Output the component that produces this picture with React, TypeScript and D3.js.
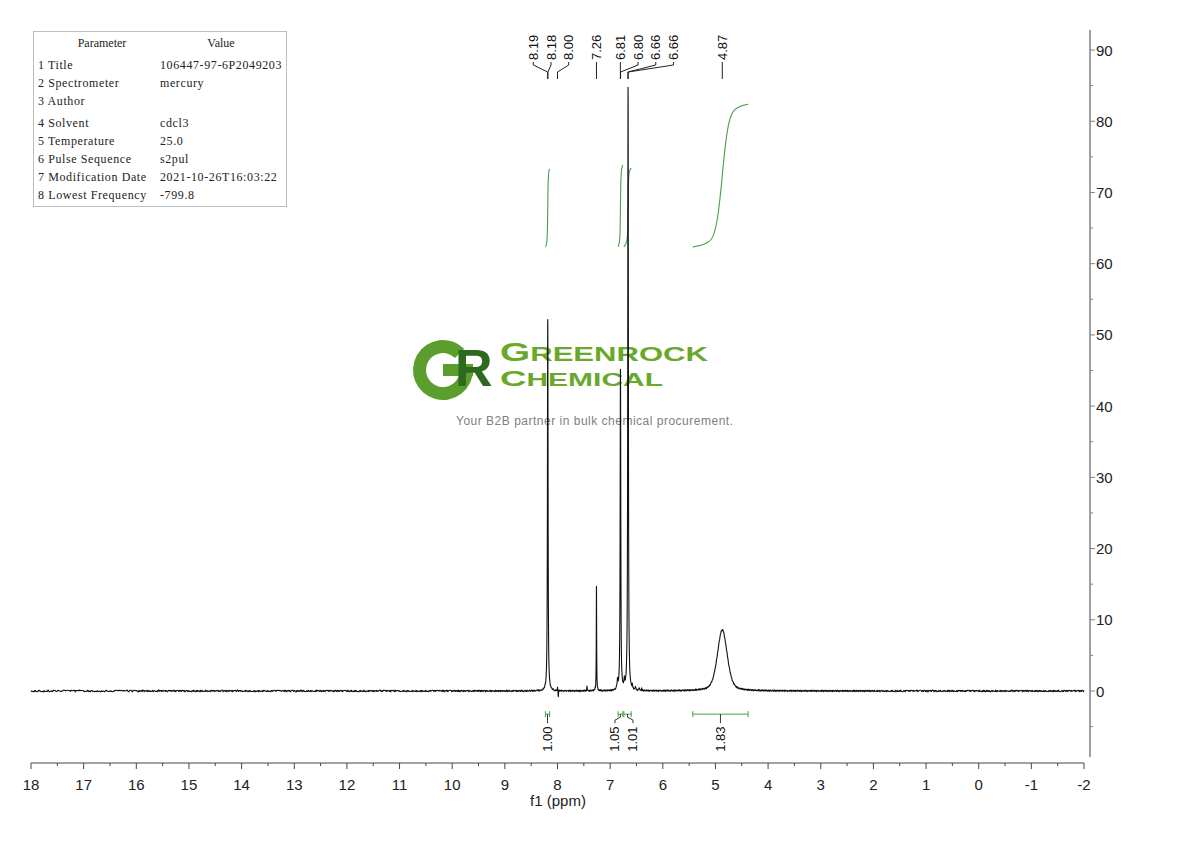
import React from "react";
import * as d3 from "d3";

// ---------------- data ----------------
const PARAM_NAMES = [
  "Title",
  "Spectrometer",
  "Author",
  "Solvent",
  "Temperature",
  "Pulse Sequence",
  "Modification Date",
  "Lowest Frequency",
];
const PARAM_VALUES = [
  "106447-97-6P2049203",
  "mercury",
  "",
  "cdcl3",
  "25.0",
  "s2pul",
  "2021-10-26T16:03:22",
  "-799.8",
];

// labelled peaks (ppm, height, half width in ppm, Lorentzian fraction)
const PEAK_PPM = [8.187, 8.183, 8.0, 7.26, 6.806, 6.802, 6.662, 6.658, 4.87];
const PEAK_HEIGHT = [29, 29, 0.5, 14.6, 25, 25, 47, 47, 8.6];
const PEAK_WIDTH = [0.006, 0.006, 0.004, 0.004, 0.006, 0.006, 0.006, 0.006, 0.11];
const PEAK_LFRAC = [1, 1, 1, 1, 1, 1, 1, 1, 0.4];

// small unlabelled features
const MINOR_PPM = [7.985, 7.44, 6.86, 6.73, 6.58, 6.52, 6.45, 6.4];
const MINOR_HEIGHT = [-0.8, 0.6, 1.2, 1.0, 0.4, 0.5, 0.4, 0.3];
const MINOR_WIDTH = [0.004, 0.004, 0.01, 0.008, 0.005, 0.005, 0.005, 0.005];

// baseline noise (intensity units)
const NOISE = [
  0.05, -0.08, 0.12, -0.03, 0.09, -0.11, 0.02, 0.07, -0.06, 0.1, -0.04, 0.08,
  -0.1, 0.03, 0.06, -0.07, 0.11, -0.02, 0.04, -0.09, 0.07, -0.05, 0.1, -0.12,
  0.01, 0.08, -0.06, 0.05, -0.03, 0.09, -0.08, 0.02, 0.12, -0.07, 0.04, -0.1,
  0.06, -0.01, 0.08, -0.05, 0.03, -0.09, 0.11, -0.04, 0.07, -0.06, 0.02, 0.1,
  -0.08, 0.05, -0.02, 0.09, -0.11, 0.04, 0.06, -0.03, 0.08, -0.07, 0.01, -0.05,
];

// integrals
const INT_FROM = [8.23, 6.85, 6.74, 5.43];
const INT_TO = [8.15, 6.76, 6.6, 4.38];
const INT_VALUES = [1.0, 1.05, 1.01, 1.83];

// axes
const X_TICKS = [18, 17, 16, 15, 14, 13, 12, 11, 10, 9, 8, 7, 6, 5, 4, 3, 2, 1, 0, -1, -2];
const Y_TICKS = [0, 10, 20, 30, 40, 50, 60, 70, 80, 90];

// ---------------- layout ----------------
const X_LEFT = 31;
const X_RIGHT = 1084;
const AXIS_Y = 763;
const RAXIS_X = 1090;
const RAXIS_TOP = 30;
const RAXIS_BOTTOM = 757;
const INT_BASE = 62.35; // intensity units where integral curves start
const INT_SCALE = 10.95; // intensity units per integral unit
const LABEL_GAP = 17.7;
const GREEN = "#46a146";
const SANS = "'Liberation Sans', Arial, sans-serif";
const SERIF = "'Liberation Serif', 'Times New Roman', serif";

function shape(x: number, c: number, h: number, w: number, lf: number) {
  const t = (x - c) / w;
  const lor = 1 / (1 + t * t);
  const gau = Math.exp(-Math.LN2 * t * t);
  return h * (lf * lor + (1 - lf) * gau);
}

function signal(ppm: number) {
  let v = 0;
  for (let i = 0; i < PEAK_PPM.length; i++)
    v += shape(ppm, PEAK_PPM[i], PEAK_HEIGHT[i], PEAK_WIDTH[i], PEAK_LFRAC[i]);
  for (let i = 0; i < MINOR_PPM.length; i++)
    v += shape(ppm, MINOR_PPM[i], MINOR_HEIGHT[i], MINOR_WIDTH[i], 1);
  return v;
}

// place labels: clusters centered on their targets, pushed right if they collide
function spreadLabels(targets: number[], gap: number) {
  const order = targets.map((t, i) => i).sort((a, b) => targets[a] - targets[b]);
  const clusters: number[][] = [];
  order.forEach((idx, k) => {
    if (k === 0 || targets[idx] - targets[order[k - 1]] >= gap) clusters.push([idx]);
    else clusters[clusters.length - 1].push(idx);
  });
  const pos: number[] = new Array(targets.length);
  let prevLast = -Infinity;
  clusters.forEach((cl) => {
    const n = cl.length;
    const mean = d3.mean(cl, (i) => targets[i]) as number;
    let start = mean - ((n - 1) / 2) * gap;
    if (start < prevLast + gap) {
      start = Math.max(prevLast + gap, targets[cl[0]]);
    }
    cl.forEach((idx, k) => (pos[idx] = start + k * gap));
    prevLast = start + (n - 1) * gap;
  });
  return pos;
}

export default function App() {
  const xs = d3.scaleLinear().domain([18, -2]).range([X_LEFT, X_RIGHT]);
  const ys = d3.scaleLinear().domain([0, 90]).range([691, 50]);

  // sampling grid
  const grid: number[] = [];
  for (let i = 0; i <= 2000; i++) grid.push(18 - i * 0.01);
  PEAK_PPM.forEach((c, i) => {
    if (PEAK_WIDTH[i] < 0.02) for (let d = -0.05; d <= 0.05; d += 0.0005) grid.push(c + d);
  });
  grid.sort((a, b) => b - a);
  const pts = grid.map((p) => {
    const k = Math.abs(Math.floor((18 - p) / 0.01)) % NOISE.length;
    return { p, v: signal(p) + NOISE[k] };
  });
  const line = d3
    .line<{ p: number; v: number }>()
    .x((d) => xs(d.p))
    .y((d) => ys(d.v));
  const specPath = line(pts) || "";

  // integral curves
  const intPaths = INT_FROM.map((f, r) => {
    const t = INT_TO[r];
    const step = Math.abs(f - t) > 0.3 ? 0.005 : 0.0005;
    const xsP: number[] = d3.range(f, t - step / 2, -step);
    const vals = xsP.map((p) => signal(p));
    const cum: number[] = [0];
    for (let i = 1; i < vals.length; i++) cum.push(cum[i - 1] + ((vals[i] + vals[i - 1]) / 2) * step);
    const total = cum[cum.length - 1];
    const ptsI = xsP.map((p, i) => ({ p, v: INT_BASE + (INT_VALUES[r] * INT_SCALE * cum[i]) / total }));
    return line(ptsI) || "";
  });

  // peak labels
  const peakTargets = PEAK_PPM.map((p) => xs(p));
  const peakLabelX = spreadLabels(peakTargets, LABEL_GAP);

  // integral labels
  const intCenters = INT_FROM.map((f, i) => xs((f + INT_TO[i]) / 2));
  const intLabelX = spreadLabels(intCenters, 18);
  const bracketY = ys(-3.25);

  // minor ticks
  const xMinor = d3.range(17.5, -2, -1);
  const yMinor = d3.range(-5, 90, 10);

  const rowY = [65, 83, 101, 123, 141, 159, 177, 195];

  const gArc =
    d3
      .arc()
      .innerRadius(17)
      .outerRadius(30)
      .startAngle(Math.PI / 2)
      .endAngle(Math.PI * 2 + Math.PI / 4)({} as any) || "";

  return (
    <svg
      width={1190}
      height={841}
      style={{ position: "absolute", left: 0, top: 0, background: "#fff" }}
    >
      <rect x={0} y={0} width={1190} height={841} fill="#fff" />

      {/* watermark */}
      <g>
        <path transform="translate(443,370)" d={gArc} fill="#5c9e2e" />
        <rect x={443} y={364} width={30} height={12} fill="#5c9e2e" />
        <text x={455} y={386} fontFamily={SANS} fontWeight="bold" fontSize={52} fill="#2e6a1e">
          R
        </text>
        <text x={500} y={361} fontFamily={SANS} fontWeight="bold" fill="#6aa82c" textLength={208} lengthAdjust="spacingAndGlyphs">
          <tspan fontSize={25}>G</tspan>
          <tspan fontSize={20}>REENROCK</tspan>
        </text>
        <text x={500} y={386} fontFamily={SANS} fontWeight="bold" fill="#6aa82c" textLength={163} lengthAdjust="spacingAndGlyphs">
          <tspan fontSize={22}>C</tspan>
          <tspan fontSize={18}>HEMICAL</tspan>
        </text>
        <text x={456} y={425} fontFamily={SANS} fontSize={12} fill="#808080" textLength={277}>
          Your B2B partner in bulk chemical procurement.
        </text>
      </g>

      {/* parameter table */}
      <rect x={33.5} y={31.5} width={253} height={175} fill="none" stroke="#bdbdbd" strokeWidth={1} />
      <text x={102} y={47} textAnchor="middle" fontFamily={SERIF} fontSize={12} fill="#222">
        Parameter
      </text>
      <text x={221} y={47} textAnchor="middle" fontFamily={SERIF} fontSize={12} fill="#222">
        Value
      </text>
      {PARAM_NAMES.map((n, i) => (
        <g key={n}>
          <text x={38} y={rowY[i] + 4} fontFamily={SERIF} fontSize={12} fill="#222" letterSpacing={0.6}>
            {`${i + 1} ${n}`}
          </text>
          <text x={160} y={rowY[i] + 4} fontFamily={SERIF} fontSize={12} fill="#222" letterSpacing={0.6}>
            {PARAM_VALUES[i]}
          </text>
        </g>
      ))}

      {/* integral curves */}
      {intPaths.map((d, i) => (
        <path key={"ic" + i} d={d} fill="none" stroke={GREEN} strokeWidth={1.1} />
      ))}

      {/* spectrum */}
      <path d={specPath} fill="none" stroke="#111" strokeWidth={1.1} strokeLinejoin="round" />

      {/* peak labels */}
      {PEAK_PPM.map((p, i) => {
        const lx = peakLabelX[i];
        const tx = peakTargets[i];
        return (
          <g key={"pl" + i}>
            <path
              d={`M${lx},62 L${lx},65 L${tx},72 L${tx},79`}
              fill="none"
              stroke="#222"
              strokeWidth={1}
            />
            <text
              transform={`translate(${lx},60) rotate(-90)`}
              fontFamily={SANS}
              fontSize={13}
              dominantBaseline="central"
              fill="#111"
            >
              {p.toFixed(2)}
            </text>
          </g>
        );
      })}

      {/* integral brackets & labels */}
      {INT_FROM.map((f, i) => {
        const x1 = xs(f);
        const x2 = xs(INT_TO[i]);
        const cx = intCenters[i];
        const lx = intLabelX[i];
        return (
          <g key={"il" + i}>
            <path
              d={`M${x1},${bracketY} L${x2},${bracketY} M${x1},${bracketY - 3} L${x1},${bracketY + 3} M${x2},${bracketY - 3} L${x2},${bracketY + 3}`}
              stroke={GREEN}
              strokeWidth={1}
              fill="none"
            />
            <path
              d={`M${cx},${bracketY} L${cx},${bracketY + 3} L${lx},${bracketY + 6} L${lx},${bracketY + 9}`}
              stroke="#333"
              strokeWidth={1}
              fill="none"
            />
            <text
              transform={`translate(${lx},${bracketY + 25}) rotate(-90)`}
              textAnchor="middle"
              dominantBaseline="central"
              fontFamily={SANS}
              fontSize={13}
              fill="#111"
            >
              {INT_VALUES[i].toFixed(2)}
            </text>
          </g>
        );
      })}

      {/* bottom axis */}
      <line x1={X_LEFT} x2={X_RIGHT} y1={AXIS_Y} y2={AXIS_Y} stroke="#444" strokeWidth={1} />
      {X_TICKS.map((t) => (
        <g key={"xt" + t}>
          <line x1={xs(t)} x2={xs(t)} y1={AXIS_Y} y2={AXIS_Y + 6} stroke="#444" />
          <text x={xs(t)} y={790} textAnchor="middle" fontFamily={SANS} fontSize={15} fill="#222">
            {String(t)}
          </text>
        </g>
      ))}
      {xMinor.map((t) => (
        <line key={"xm" + t} x1={xs(t)} x2={xs(t)} y1={AXIS_Y} y2={AXIS_Y + 3} stroke="#444" />
      ))}
      <text x={558} y={806} textAnchor="middle" fontFamily={SANS} fontSize={15} fill="#222">
        f1 (ppm)
      </text>

      {/* right axis */}
      <line x1={RAXIS_X} x2={RAXIS_X} y1={RAXIS_TOP} y2={RAXIS_BOTTOM} stroke="#808080" strokeWidth={1.5} />
      {Y_TICKS.map((t) => (
        <g key={"yt" + t}>
          <line x1={RAXIS_X} x2={RAXIS_X + 5} y1={ys(t)} y2={ys(t)} stroke="#808080" strokeWidth={1} />
          <text x={RAXIS_X + 6} y={ys(t)} dominantBaseline="central" fontFamily={SANS} fontSize={15} fill="#222">
            {String(t)}
          </text>
        </g>
      ))}
      {yMinor.map((t) => (
        <line key={"ym" + t} x1={RAXIS_X} x2={RAXIS_X + 3} y1={ys(t)} y2={ys(t)} stroke="#808080" strokeWidth={1} />
      ))}
    </svg>
  );
}
